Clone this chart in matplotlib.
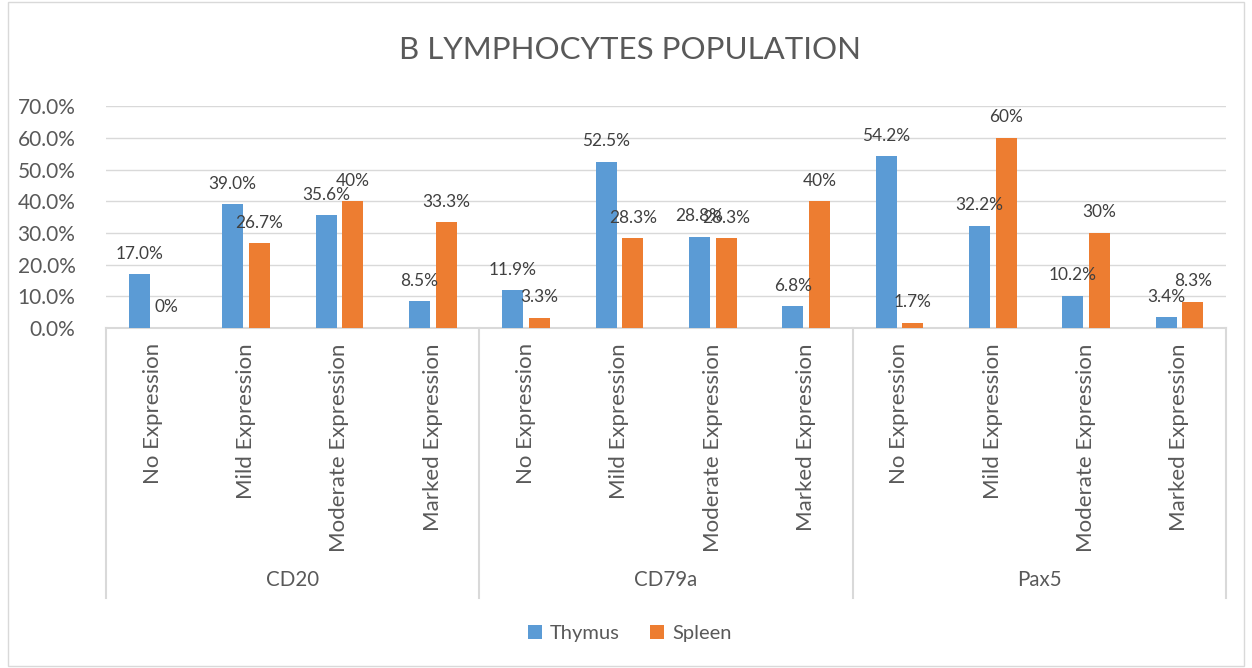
import matplotlib.pyplot as plt
import matplotlib.transforms as mtransforms
import numpy as np

plt.rcParams['font.family'] = ['Lato', 'DejaVu Sans']

# datos
marcadores = ["CD20", "CD79a", "Pax5"]
niveles = ["No Expression", "Mild Expression", "Moderate Expression", "Marked Expression"]
thymus = [0.170, 0.390, 0.356, 0.085,
          0.119, 0.525, 0.288, 0.068,
          0.542, 0.322, 0.102, 0.034]
spleen = [0.0, 0.267, 0.40, 0.333,
          0.033, 0.283, 0.283, 0.40,
          0.017, 0.60, 0.30, 0.083]
etiq_thymus = ["17.0%", "39.0%", "35.6%", "8.5%",
               "11.9%", "52.5%", "28.8%", "6.8%",
               "54.2%", "32.2%", "10.2%", "3.4%"]
etiq_spleen = ["0%", "26.7%", "40%", "33.3%",
               "3.3%", "28.3%", "28.3%", "40%",
               "1.7%", "60%", "30%", "8.3%"]

AZUL = "#5b9bd5"
NARANJA = "#ed7d31"
GRIS_TXT = "#595959"
GRIS_LIN = "#d9d9d9"

fig = plt.figure(figsize=(12.52, 6.68), dpi=100)
# borde del area del grafico
fig.patches.append(plt.Rectangle((0.006, 0.003), 0.988, 0.994, transform=fig.transFigure,
                                 fill=False, edgecolor=GRIS_LIN, linewidth=1))
ax = fig.add_axes([0.0847, 0.509, 0.8946, 0.332])

n = len(thymus)
x = np.arange(n)
ancho = 0.225
b1 = ax.bar(x - 0.03 - ancho / 2, thymus, ancho, color=AZUL, label="Thymus", zorder=3)
b2 = ax.bar(x + 0.03 + ancho / 2, spleen, ancho, color=NARANJA, label="Spleen", zorder=3)
ax.bar_label(b1, labels=etiq_thymus, padding=9, color="#404040", fontsize=12.4)
ax.bar_label(b2, labels=etiq_spleen, padding=9, color="#404040", fontsize=12.4)

ax.set_xlim(-0.5, n - 0.5)
ax.set_ylim(0, 0.7)
ax.set_yticks(np.arange(0, 0.71, 0.1))
ax.set_yticklabels([f"{v * 100:.1f}%" for v in np.arange(0, 0.71, 0.1)])
ax.grid(axis="y", color=GRIS_LIN, linewidth=1, zorder=0)
for s in ["left", "right", "top"]:
    ax.spines[s].set_visible(False)
ax.spines["bottom"].set_color(GRIS_LIN)
ax.spines["bottom"].set_linewidth(1.5)
ax.tick_params(axis="y", length=0, labelsize=15, labelcolor=GRIS_TXT, pad=22)

ax.set_xticks(x)
ax.set_xticklabels(niveles * len(marcadores), rotation=90, fontsize=16, color=GRIS_TXT)
ax.tick_params(axis="x", length=0, pad=11)

# separadores y nombres de grupo
trans = mtransforms.blended_transform_factory(ax.transData, ax.transAxes)
for k in range(len(marcadores) + 1):
    xs = k * 4 - 0.5
    ax.plot([xs, xs], [0, -1.216], transform=trans, color=GRIS_LIN, linewidth=1.5, clip_on=False)
for k, m in enumerate(marcadores):
    ax.text(k * 4 + 1.5, -1.135, m, transform=trans, ha="center", va="center",
            fontsize=14.8, color=GRIS_TXT)

fig.text(0.503, 0.925, "B LYMPHOCYTES POPULATION", ha="center", va="center",
         fontsize=22.5, color=GRIS_TXT)
fig.legend(handles=[b1, b2], loc="center", bbox_to_anchor=(0.503, 0.051), ncol=2,
           frameon=False, fontsize=14.5, handlelength=0.7, handleheight=0.7,
           columnspacing=1.5, handletextpad=0.4, labelcolor=GRIS_TXT)

fig.savefig("out.png", dpi=100)
